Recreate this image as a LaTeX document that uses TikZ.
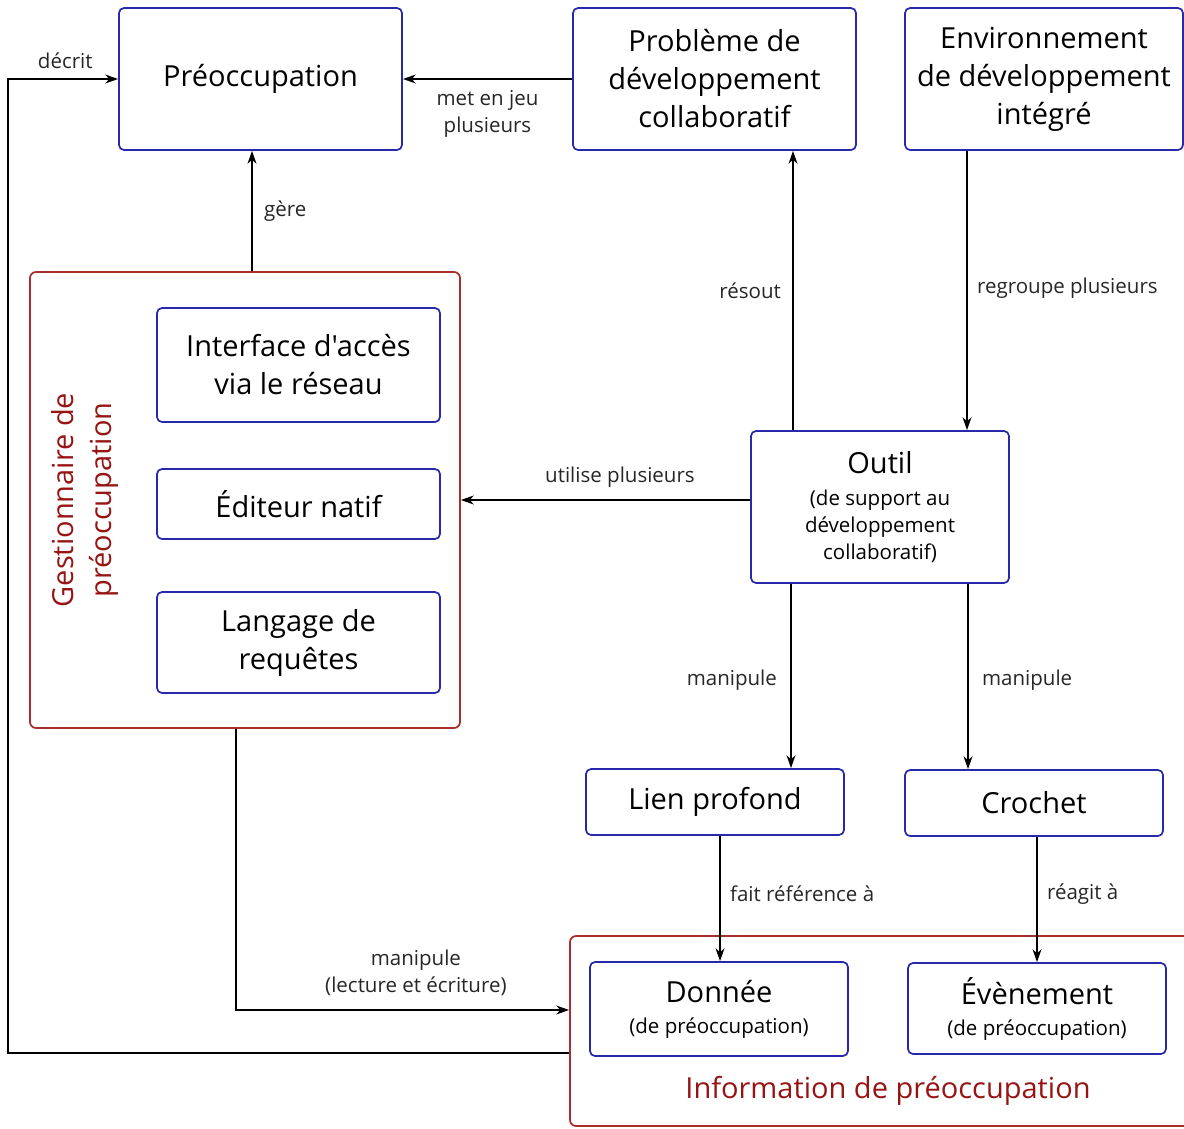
\documentclass[tikz,border=0pt]{standalone}
\usepackage{fontspec}
\setmainfont{Open Sans}[Ligatures=TeXOff]
\usetikzlibrary{arrows.meta}

\definecolor{boxBlue}{RGB}{40,40,170}
\definecolor{grpRed}{RGB}{170,45,45}
\definecolor{txtRed}{RGB}{150,20,20}
\newcommand{\bigfont}{\fontsize{29}{38}\selectfont}
\newcommand{\lblfont}{\fontsize{20.5}{27}\selectfont}

\tikzset{
  box/.style={draw=boxBlue, line width=1.7pt, rounded corners=5pt, align=center,
              inner sep=0pt, font=\bigfont},
  grp/.style={draw=grpRed, line width=1.7pt, rounded corners=6pt, inner sep=0pt},
  arr/.style={-{Stealth[length=13pt,width=9pt]}, line width=1.6pt},
  lbl/.style={font=\lblfont, align=center, text=black!85}
}

\begin{document}
\begin{tikzpicture}[x=1pt,y=-1pt]
  \useasboundingbox (0,0) rectangle (1184,1128);

  % groups
  \node[grp, minimum width=430, minimum height=456] (gest) at (245,500) {};
  \node[grp, minimum width=625, minimum height=190] (info) at (882.5,1031) {};
  \node[font=\bigfont, text=txtRed, rotate=90, align=center] (gestLbl) at (85,500)
       {Gestionnaire de\\préoccupation};
  \node[font=\bigfont, text=txtRed] (infoLbl) at (888,1091) {Information de préoccupation};

  % top row
  \node[box, minimum width=283, minimum height=142] (pre) at (260.5,79) {Préoccupation};
  \node[box, minimum width=283, minimum height=142] (pb)  at (714.5,79)
       {Problème de\\développement\\collaboratif};
  \node[box, minimum width=278, minimum height=142] (env) at (1044,79)
       {Environnement\\de développement\\intégré};

  % inside the manager
  \node[box, minimum width=283, minimum height=114] (itf)  at (298.5,365)
       {Interface d'accès\\via le réseau};
  \node[box, minimum width=283, minimum height=70]  (edit) at (298.5,504) {Éditeur natif};
  \node[box, minimum width=283, minimum height=101] (lang) at (298.5,642.5)
       {Langage de\\requêtes};

  % tool and what it handles
  \node[box, minimum width=258, minimum height=152, font=\lblfont] (outil) at (880,507)
       {{\bigfont Outil}\\[5pt](de support au\\développement\\collaboratif)};
  \node[box, minimum width=258, minimum height=66] (lien)  at (715,802) {Lien profond};
  \node[box, minimum width=258, minimum height=66] (croch) at (1034,803) {Crochet};

  % information
  \node[box, minimum width=258, minimum height=94, font=\lblfont] (don) at (719,1009)
       {{\bigfont Donnée}\\[4pt](de préoccupation)};
  \node[box, minimum width=258, minimum height=91, font=\lblfont] (evt) at (1037,1008.5)
       {{\bigfont Évènement}\\[4pt](de préoccupation)};

  % relations
  \coordinate (cornerTop) at (8,79);
  \draw[arr] ([yshift=-22pt]info.west) -| (cornerTop)
             -- node[lbl, above=6pt, pos=0.52] {décrit} (pre.west);
  \draw[arr] (pb.west) -- node[lbl, below=7pt] {met en jeu\\plusieurs} (pre.east);
  \draw[arr] ([xshift=7pt]gest.north) -- node[lbl, right=8pt] {gère}
             ([xshift=7pt]gest.north |- pre.south);
  \draw[arr] ([xshift=-87pt]outil.north) -- node[lbl, left=8pt] {résout}
             ([xshift=-87pt]outil.north |- pb.south);
  \draw[arr] ([xshift=-77pt]env.south) -- node[lbl, right=6pt, pos=0.49] {regroupe plusieurs}
             ([xshift=-77pt]env.south |- outil.north);
  \draw[arr] ([yshift=7pt]outil.west) -- node[lbl, above=8pt, pos=0.45] {utilise plusieurs}
             ([yshift=7pt]outil.west -| gest.east);
  \draw[arr] ([xshift=-89pt]outil.south) -- node[lbl, left=10pt, pos=0.52] {manipule}
             ([xshift=-89pt]outil.south |- lien.north);
  \draw[arr] ([xshift=88pt]outil.south) -- node[lbl, right=10pt, pos=0.52] {manipule}
             ([xshift=88pt]outil.south |- croch.north);
  \draw[arr] ([xshift=5pt]lien.south) -- node[lbl, right=6pt, pos=0.46] {fait référence à}
             ([xshift=5pt]lien.south |- don.north);
  \draw[arr] ([xshift=3pt]croch.south) -- node[lbl, right=6pt, pos=0.46] {réagit à}
             (evt.north);
  \draw[arr] ([xshift=-9pt]gest.south) |- node[lbl, above=10pt, pos=0.77]
             {manipule\\(lecture et écriture)} ([yshift=21pt]info.west);
\end{tikzpicture}
\end{document}
